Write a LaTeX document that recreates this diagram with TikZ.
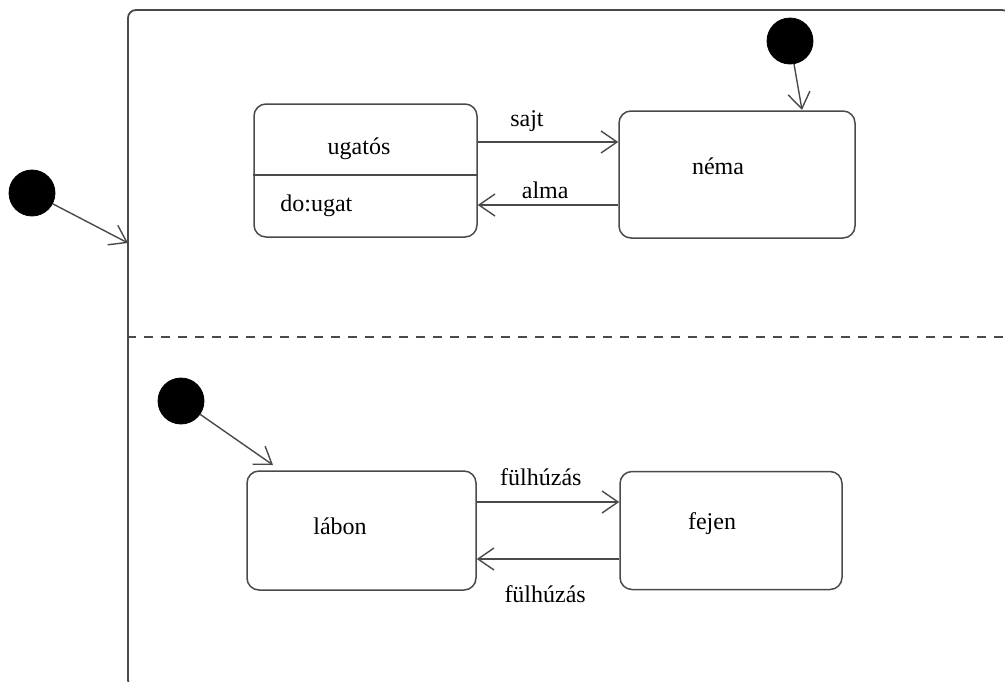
\documentclass[tikz,border=0pt]{standalone}
\usepackage{fontspec}
\setmainfont{Liberation Serif}
\usepackage{tikz}
\usetikzlibrary{arrows.meta, positioning, calc}
\definecolor{linedraw}{HTML}{4A4A4A}
\definecolor{dotfill}{HTML}{000000}
\tikzset{
  state/.style={rectangle, rounded corners=6pt, draw=linedraw, line width=0.75pt, fill=white},
  region/.style={rectangle, rounded corners=4pt, draw=linedraw, line width=0.9pt, minimum width=441pt, minimum height=339pt, inner sep=0pt},
  init/.style={circle, fill=dotfill, draw=dotfill, minimum size=23pt, inner sep=0pt},
  lab/.style={font=\fontsize{12}{14}\selectfont, inner sep=1pt},
  arr/.style={->, >={Straight Barb[length=8pt, width=11pt]}, line width=0.7pt, draw=linedraw},
  sep/.style={dash pattern=on 4.5pt off 4pt, line width=0.6pt, draw=linedraw},
}
\begin{document}
\begin{tikzpicture}[x=0.5pt, y=-0.5pt]
  \useasboundingbox (0,0) rectangle (1005,681);
  \clip (0,0) rectangle (1005,681);
  % outer composite state
  \node[region] (outer) at (569,349) {};
  \draw[sep] (outer.west |- 0,337) -- (outer.east |- 0,337);

  % upper region
  \node[state, minimum width=111.5pt, minimum height=66.5pt] (ugatos) at (365.5,170.5) {};
  \draw[state, rounded corners=0pt] (ugatos.west |- 0,175) -- (ugatos.east |- 0,175);
  \node[lab] (ugatosname) at (359,149) {ugatós};
  \node[lab, anchor=west] (ugatosdo) at (278,206) {do:ugat};
  \node[state, minimum width=118pt, minimum height=63.5pt] (nema) at (737,174.5) {};
  \node[lab] (nemaname) at (718,166) {néma};

  \draw[arr] (ugatos.east |- 0,142) -- (nema.west |- 0,142) node[lab, pos=0.35, above=4pt] (sajt) {sajt};
  \draw[arr] (nema.west |- 0,205) -- (ugatos.east |- 0,205) node[lab, pos=0.52, above=2pt] (alma) {alma};

  % lower region
  \node[state, minimum width=114.5pt, minimum height=59.5pt] (labon) at (361.5,530.5) {};
  \node[lab] (labonname) at (340,526) {lábon};
  \node[state, minimum width=111pt, minimum height=59pt] (fejen) at (731,530.5) {};
  \node[lab] (fejenname) at (712,524) {fejen};

  \draw[arr] (labon.east |- 0,502) -- (fejen.west |- 0,502) node[lab, pos=0.45, above=7pt] (fulup) {fülhúzás};
  \draw[arr] (fejen.west |- 0,559) -- (labon.east |- 0,559) node[lab, pos=0.52, below=12pt] (fuldown) {fülhúzás};

  % initial pseudostates
  \node[init] (start) at (32,193) {};
  \coordinate (startin) at (128,243);
  \draw[arr] (start) -- (startin);
  \node[init] (nemastart) at (790,41) {};
  \coordinate (nemain) at (802,110);
  \draw[arr] (nemastart) -- (nemain);
  \node[init] (labonstart) at (181,401) {};
  \coordinate (labonin) at (273,465);
  \draw[arr] (labonstart) -- (labonin);
\end{tikzpicture}
\end{document}
